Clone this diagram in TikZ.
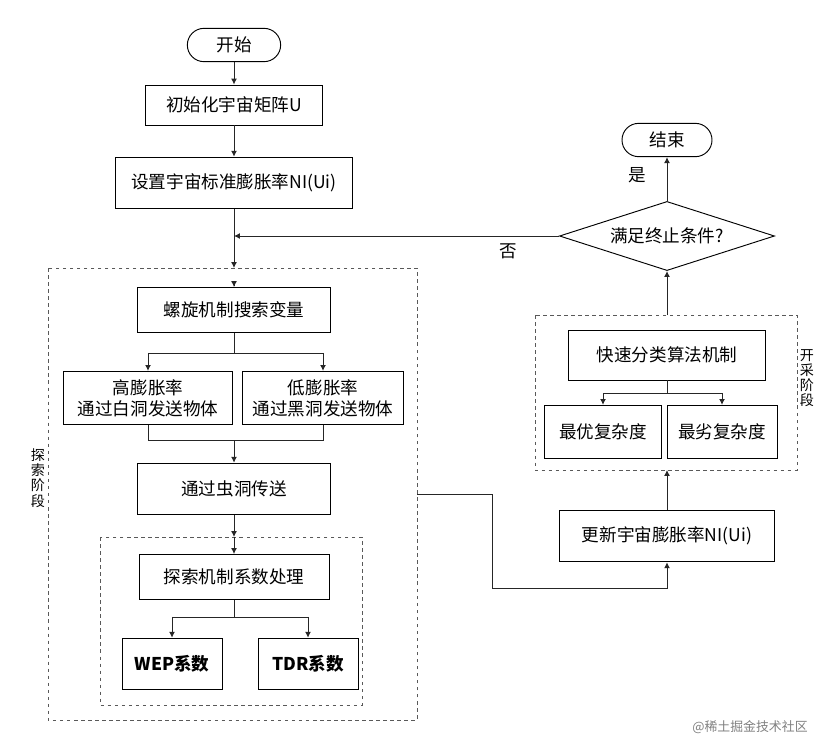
\documentclass[tikz,border=0pt]{standalone}
\usepackage{fontspec}
\setmainfont{Noto Sans CJK SC}
\usetikzlibrary{arrows.meta, positioning, shapes.geometric, calc}

\tikzset{
    box/.style={draw, thick, minimum height=#1, inner sep=2pt, font=\fontsize{15}{18}\selectfont},
    box/.default={1.35cm},
    term/.style={draw, thick, rounded corners=0.5cm, minimum width=2.8cm, minimum height=1cm, font=\fontsize{15}{18}\selectfont},
    zone/.style={draw, thick, dashed, gray!70!black},
    arr/.style={-{Latex[length=5pt,width=5pt]}, thick, gray!30!black},
    ln/.style={thick, gray!30!black}
}

\begin{document}
\begin{tikzpicture}[x=0.03cm, y=-0.03cm]
    \useasboundingbox (0,0) rectangle (834,743);

    % Main column
    \node[term] (start) at (234,45) {开始};
    \node[box=1.2cm, minimum width=5.3cm] (init) at (234,105) {初始化宇宙矩阵U};
    \node[box=1.55cm, minimum width=7.1cm] (rate) at (234,183) {设置宇宙标准膨胀率NI(Ui)};

    % Exploration stage
    \draw[zone] (48,268) rectangle (417,720);
    \coordinate (exTop) at (234,268);
    \coordinate (exRight) at (417,494);
    \node[font=\fontsize{12}{13}\selectfont, align=center] at (38,478) {探\\索\\阶\\段};
    \node[box, minimum width=5.8cm] (spiral) at (234,310) {螺旋机制搜索变量};
    \node[box=1.6cm, minimum width=5.05cm, align=center] (high) at (148,398) {高膨胀率\\通过白洞发送物体};
    \node[box=1.6cm, minimum width=4.85cm, align=center] (low) at (323,398) {低膨胀率\\通过黑洞发送物体};
    \node[box=1.55cm, minimum width=5.8cm] (worm) at (234,489) {通过虫洞传送};
    \draw[zone] (100,537) rectangle (362,705);
    \coordinate (inTop) at (234,537);
    \node[box, minimum width=5.7cm] (coef) at (234,577) {探索机制系数处理};
    \node[box=1.55cm, minimum width=3cm, font=\fontsize{15}{18}\selectfont\bfseries] (wep) at (172,664) {WEP系数};
    \node[box=1.55cm, minimum width=3cm, font=\fontsize{15}{18}\selectfont\bfseries] (tdr) at (308,664) {TDR系数};

    % Exploitation stage
    \node[box=1.55cm, minimum width=6.45cm] (update) at (667,536) {更新宇宙膨胀率NI(Ui)};
    \draw[zone] (535,315) rectangle (797,470);
    \coordinate (mnBot) at (667,470);
    \coordinate (mnTop) at (667,315);
    \node[font=\fontsize{12}{13}\selectfont, align=center] at (807,378) {开\\采\\阶\\段};
    \node[box=1.5cm, minimum width=5.9cm] (sort) at (667,355) {快速分类算法机制};
    \node[box=1.6cm, minimum width=3.5cm] (best) at (603,432) {最优复杂度};
    \node[box=1.6cm, minimum width=3.3cm] (worst) at (722,432) {最劣复杂度};
    \node[draw, thick, diamond, aspect=2.15, minimum width=6.45cm, inner sep=0pt, font=\fontsize{15}{18}\selectfont] (stop) at (667,236) {满足终止条件?};
    \node[term, minimum width=2.7cm] (end) at (667,140) {结束};

    % Connectors
    \draw[arr] (start) -- (init);
    \draw[arr] (init) -- (rate);
    \draw[arr] (rate) -- (exTop);
    \draw[arr] (exTop |- 0,286) -- (spiral);
    \draw[ln] (spiral.south) -- ++(0,20) coordinate (s1);
    \draw[ln] (high |- s1) -- (low |- s1);
    \draw[arr] (high |- s1) -- (high);
    \draw[arr] (low |- s1) -- (low);
    \draw[ln] (high.south) -- ++(0,15) coordinate (m1) -- (low |- m1) -- (low.south);
    \draw[arr] (234,440) -- (worm);
    \draw[arr] (worm) -- (inTop);
    \draw[arr] (inTop) -- (coef);
    \draw[ln] (coef.south) -- ++(0,17) coordinate (c1);
    \draw[ln] (wep |- c1) -- (tdr |- c1);
    \draw[arr] (wep |- c1) -- (wep);
    \draw[arr] (tdr |- c1) -- (tdr);
    \draw[arr] (exRight) -- (492,494) -- (492,588) -- (update.south |- 0,588) -- (update);
    \draw[arr] (update) -- (mnBot);
    \draw[ln] (sort.south) -- ++(0,13) coordinate (b1);
    \draw[ln] (best |- b1) -- (worst |- b1);
    \draw[arr] (best |- b1) -- (best);
    \draw[arr] (worst |- b1) -- (worst);
    \draw[arr] (mnTop) -- (stop);
    \draw[arr] (stop) -- (rate |- stop);
    \node[font=\fontsize{15}{18}\selectfont] (no) at (508,251) {否};
    \draw[arr] (stop) -- (end);
    \node[font=\fontsize{15}{18}\selectfont] (yes) at (637,175) {是};

    \node[gray, font=\fontsize{11}{13}\selectfont] at (750,727) {@稀土掘金技术社区};
\end{tikzpicture}
\end{document}
